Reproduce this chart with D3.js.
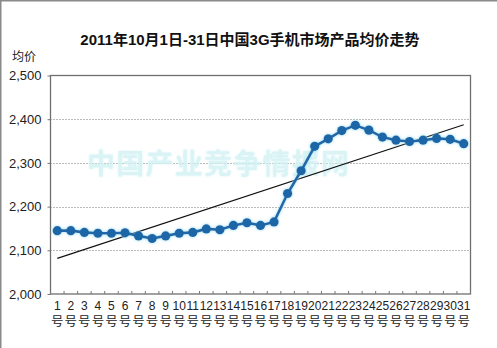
<!DOCTYPE html>
<html><head><meta charset="utf-8">
<script src="https://cdn.jsdelivr.net/npm/d3@7"></script>
<style>
html,body{margin:0;padding:0;background:#fff;}
svg{display:block;}
text{font-family:"Liberation Sans",Arial,"Noto Sans CJK SC",sans-serif;}
</style></head>
<body><svg id="c" width="497" height="348"></svg>
<script>
const days = d3.range(1, 32).map(d => String(d));
const dayUnit = "号";
const prices = [2145,2145,2141,2139,2139,2140,2133,2127,2133,2139,2141,2149,2147,2157,2163,2157,2165,2230,2282,2338,2355,2374,2386,2375,2359,2352,2349,2352,2356,2354,2344];
const yTicks = [2000,2100,2200,2300,2400,2500];
const title = "2011年10月1日-31日中国3G手机市场产品均价走势";
const yTitle = "均价";
const watermark = "中国产业竞争情报网";

const svg = d3.select("#c");
const L = 50.5, R = 470.5, T = 75.5, B = 294;

const defs = svg.append("defs");
const glow = defs.append("filter").attr("id","glow").attr("x","-50%").attr("y","-50%").attr("width","200%").attr("height","200%");
glow.append("feGaussianBlur").attr("in","SourceAlpha").attr("stdDeviation",1.6).attr("result","b");
glow.append("feFlood").attr("flood-color","#8fd8f0").attr("result","f");
glow.append("feComposite").attr("in","f").attr("in2","b").attr("operator","in").attr("result","g");
const m = glow.append("feMerge");
m.append("feMergeNode").attr("in","g");
m.append("feMergeNode").attr("in","SourceGraphic");

const wglow = defs.append("filter").attr("id","wglow").attr("x","-10%").attr("y","-30%").attr("width","120%").attr("height","160%");
wglow.append("feGaussianBlur").attr("in","SourceGraphic").attr("stdDeviation",1.2).attr("result","b");
const wm = wglow.append("feMerge");
wm.append("feMergeNode").attr("in","b");
wm.append("feMergeNode").attr("in","SourceGraphic");

const x = d3.scaleBand().domain(days).range([L, R]);
const y = d3.scaleLinear().domain([2000, 2500]).range([B, T]);

// frame borders of image
svg.append("line").attr("x1",0).attr("x2",497).attr("y1",0.5).attr("y2",0.5).attr("stroke","#8a8a8a").attr("stroke-width",2);
svg.append("line").attr("x1",0.5).attr("x2",0.5).attr("y1",0).attr("y2",348).attr("stroke","#8a8a8a").attr("stroke-width",2);

// title
svg.append("text").attr("x", 250).attr("y", 45).attr("text-anchor","middle")
  .attr("font-size", 15).attr("font-weight","bold").attr("fill","#111").text(title);
svg.append("text").attr("x", 12).attr("y", 61).attr("font-size", 12).attr("fill","#222").text(yTitle);

// gridlines
svg.append("g").selectAll("line").data(yTicks.filter(v => v > 2000 && v < 2500)).join("line")
  .attr("x1", L).attr("x2", R).attr("y1", d => Math.round(y(d)) + 0.5).attr("y2", d => Math.round(y(d)) + 0.5)
  .attr("stroke", "#777").attr("stroke-width", 1).attr("stroke-dasharray", "1,2");

// watermark
svg.append("text").attr("x", 87).attr("y", 174).attr("font-size", 28).attr("font-weight","bold")
  .attr("font-family","Noto Sans CJK SC").attr("fill","#d2f2f5").attr("opacity",0.8)
  .attr("textLength", 262).attr("filter","url(#wglow)").text(watermark);

// plot border
svg.append("rect").attr("x", L).attr("y", T).attr("width", R - L).attr("height", B - T)
  .attr("fill","none").attr("stroke","#6f6f6f").attr("stroke-width",1.3);

// y axis
const yAxis = d3.axisLeft(y).tickValues(yTicks).tickFormat(d3.format(",")).tickSize(3).tickPadding(6);
const ga = svg.append("g").attr("transform", `translate(${L},0)`).call(yAxis);
ga.select(".domain").remove();
ga.selectAll(".tick line").attr("stroke","#777");
ga.selectAll("text").attr("font-size", 13).attr("fill","#222").attr("font-family","Liberation Sans, Arial");

// x ticks at category boundaries (inward)
const bounds = d3.range(0, days.length + 1).map(i => L + i * x.step());
svg.append("g").selectAll("line").data(bounds).join("line")
  .attr("x1", d => d).attr("x2", d => d).attr("y1", B).attr("y2", B - 3)
  .attr("stroke","#777");

// x labels
const xl = svg.append("g").selectAll("g").data(days).join("g")
  .attr("transform", d => `translate(${x(d) + x.bandwidth()/2},0)`);
xl.append("text").attr("y", 310).attr("text-anchor","middle").attr("font-size", 12).attr("fill","#222").text(d => d);
xl.append("text").attr("y", 326).attr("text-anchor","middle").attr("font-size", 12.5)
  .attr("font-family","Noto Sans CJK SC").attr("fill","#222").text(dayUnit);

// trend line (least squares from data)
const n = prices.length;
const xs = d3.range(1, n + 1);
const mx = d3.mean(xs), my = d3.mean(prices);
const slope = d3.sum(xs, (xi, i) => (xi - mx) * (prices[i] - my)) / d3.sum(xs, xi => (xi - mx) ** 2);
const icpt = my - slope * mx;
svg.append("line")
  .attr("x1", x(days[0]) + x.bandwidth()/2).attr("y1", y(icpt + slope * 1))
  .attr("x2", x(days[n-1]) + x.bandwidth()/2).attr("y2", y(icpt + slope * n))
  .attr("stroke","#111").attr("stroke-width",1.1);

// series
const cx = (d, i) => x(days[i]) + x.bandwidth()/2;
const sg = svg.append("g").attr("filter","url(#glow)");
sg.append("path").datum(prices)
  .attr("d", d3.line().x(cx).y(d => y(d)))
  .attr("fill","none").attr("stroke","#2168a8").attr("stroke-width",2.6);
sg.selectAll("circle").data(prices).join("circle")
  .attr("cx", cx).attr("cy", d => y(d)).attr("r", 4.6).attr("fill","#1e66a8");
</script></body></html>
